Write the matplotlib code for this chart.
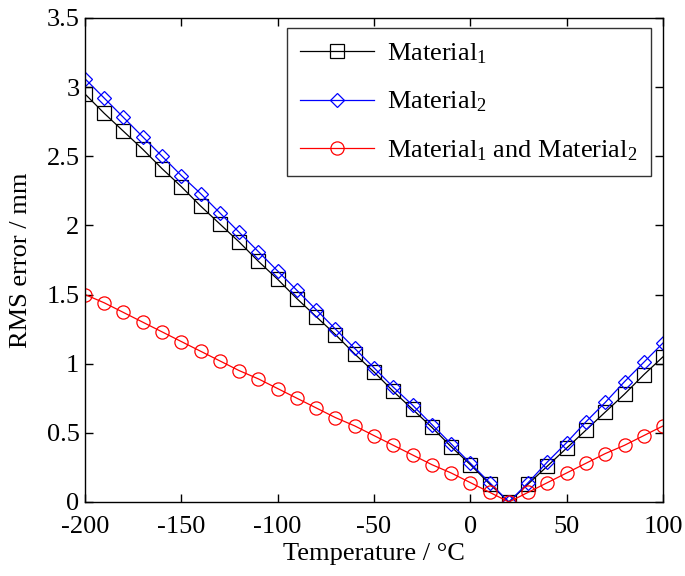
import numpy as np
import matplotlib.pyplot as plt
from matplotlib.ticker import FuncFormatter

plt.rcParams['font.family'] = ['Liberation Serif', 'DejaVu Serif']
plt.rcParams['mathtext.fontset'] = 'custom'
plt.rcParams['mathtext.rm'] = 'Liberation Serif'
plt.rcParams['mathtext.it'] = 'Liberation Serif'
plt.rcParams['axes.unicode_minus'] = False

# -------------------------
# data
# -------------------------
temperature = list(range(-200, 101, 10))

material_1 = [2.95, 2.81, 2.68, 2.55, 2.41, 2.28, 2.14, 2.01, 1.88, 1.74,
              1.61, 1.47, 1.34, 1.21, 1.07, 0.94, 0.80, 0.67, 0.54, 0.40,
              0.27, 0.13, 0.00, 0.13, 0.26, 0.39, 0.52, 0.65, 0.78, 0.92,
              1.05]

material_2 = [3.06, 2.92, 2.78, 2.64, 2.50, 2.36, 2.23, 2.09, 1.95, 1.81,
              1.67, 1.53, 1.39, 1.25, 1.11, 0.97, 0.83, 0.70, 0.56, 0.42,
              0.28, 0.14, 0.00, 0.14, 0.29, 0.43, 0.58, 0.72, 0.87, 1.01,
              1.15]

material_both = [1.50, 1.44, 1.37, 1.30, 1.23, 1.16, 1.09, 1.02, 0.95, 0.89,
                 0.82, 0.75, 0.68, 0.61, 0.55, 0.48, 0.41, 0.34, 0.27, 0.21,
                 0.14, 0.07, 0.00, 0.07, 0.14, 0.21, 0.28, 0.35, 0.41, 0.48,
                 0.55]

labels = [r"Material$_{1}$", r"Material$_{2}$",
          r"Material$_{1}$ and Material$_{2}$"]

# -------------------------
# figure
# -------------------------
fig = plt.figure(figsize=(6.85, 5.76), dpi=100)
ax = fig.add_axes([0.124, 0.1285, 0.844, 0.8405])

ax.plot(temperature, material_1, color='black', marker='s', ms=9.5,
        mfc='none', mew=0.9, lw=0.9, label=labels[0])
ax.plot(temperature, material_2, color='blue', marker='D', ms=7.5,
        mfc='none', mew=0.9, lw=0.9, label=labels[1])
ax.plot(temperature, material_both, color='red', marker='o', ms=9.5,
        mfc='none', mew=0.9, lw=0.9, label=labels[2])

ax.set_xlim(-200, 100)
ax.set_ylim(0, 3.5)
ax.set_xticks(np.arange(-200, 101, 50))
ax.set_yticks(np.arange(0, 3.51, 0.5))
ax.yaxis.set_major_formatter(FuncFormatter(lambda v, p: f"{v:g}"))

ax.tick_params(direction='in', top=True, right=True, labelsize=19,
               length=6, width=1)
ax.tick_params(axis='x', pad=10)
ax.tick_params(axis='y', pad=4)
for s in ax.spines.values():
    s.set_linewidth(1)

ax.set_xlabel("Temperature / °C", fontsize=19, labelpad=4)
ax.set_ylabel("RMS error / mm", fontsize=19, labelpad=10)

leg = ax.legend(loc='upper right', fontsize=19, frameon=True, fancybox=False,
                edgecolor='black', borderpad=0.5, handlelength=2.8,
                handletextpad=0.5, labelspacing=0.9, borderaxespad=0.3,
                bbox_to_anchor=(0.992, 0.995))
leg.get_frame().set_linewidth(1)

fig.savefig("out.png", dpi=100)
